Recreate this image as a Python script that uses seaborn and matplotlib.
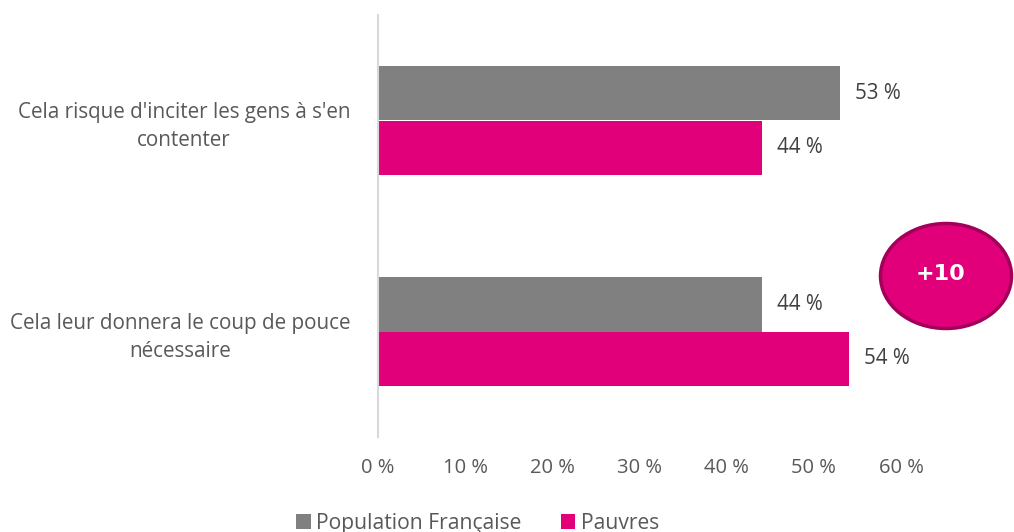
import matplotlib
matplotlib.use("Agg")
import matplotlib.pyplot as plt
from matplotlib.patches import Ellipse, Patch
import seaborn as sns
import pandas as pd

# Data
categories = [
    "Cela risque d'inciter les gens à s'en\ncontenter",
    "Cela leur donnera le coup de pouce\nnécessaire",
]
series_names = ["Population Française", "Pauvres"]
population = [53, 44]
pauvres = [44, 54]
xticks = [0, 10, 20, 30, 40, 50, 60]
badge_text = "+10"

colors = {"Population Française": "#808080", "Pauvres": "#E2007A"}

df = pd.DataFrame({
    "categorie": categories * 2,
    "serie": [series_names[0]] * 2 + [series_names[1]] * 2,
    "valeur": population + pauvres,
})

sns.set_theme(style="white")
plt.rcParams["font.family"] = ["Open Sans", "DejaVu Sans"]

fig = plt.figure(figsize=(10.14, 5.32), dpi=100)
ax = fig.add_axes([378 / 1014, 1 - 437 / 532, 523 / 1014, 422 / 532])

sns.barplot(
    data=df, y="categorie", x="valeur", hue="serie", orient="h",
    palette=colors, saturation=1, width=0.52, gap=0, ax=ax, legend=False,
    edgecolor="none", linewidth=0,
)

ax.set_xlim(0, 60)
ax.set_ylim(1.5, -0.5)
ax.set_xticks(xticks)
ax.set_xticklabels([f"{t} %" for t in xticks], color="#595959", fontsize=14.5)
ax.set_yticks(range(len(categories)))
ax.set_yticklabels(categories, color="#595959", fontsize=14.9,
                   multialignment="center", linespacing=1.45)
ax.tick_params(axis="x", length=0, pad=15)
ax.tick_params(axis="y", length=0, pad=20)
ax.set_xlabel("")
ax.set_ylabel("")

for side in ["top", "right", "bottom"]:
    ax.spines[side].set_visible(False)
ax.spines["left"].set_color("#d9d9d9")
ax.spines["left"].set_linewidth(1.5)

for cont in ax.containers:
    ax.bar_label(cont, labels=[f"{v:.0f} %" for v in cont.datavalues],
                 padding=11, fontsize=14.8, color="#404040")

# Legend
handles = [Patch(facecolor=colors[s], edgecolor="none") for s in series_names]
fig.legend(handles, series_names, loc="center", bbox_to_anchor=(0.471, 0.016),
           ncol=2, frameon=False, fontsize=15.2, labelcolor="#595959",
           handlelength=0.7, handleheight=0.7, handletextpad=0.25,
           columnspacing=1.85, borderaxespad=0)

# Highlight badge
badge = Ellipse((946 / 1014, 1 - 276 / 532), 131 / 1014, 105 / 532,
                transform=fig.transFigure, facecolor="#E2007A",
                edgecolor="#A3005A", linewidth=2.5, zorder=5)
fig.patches.append(badge)
fig.text(941 / 1014, 1 - 274 / 532, badge_text, ha="center", va="center",
         color="white", fontsize=16, fontweight="bold",
         family=["DejaVu Sans"], zorder=6)

fig.savefig("out.png", dpi=100)
